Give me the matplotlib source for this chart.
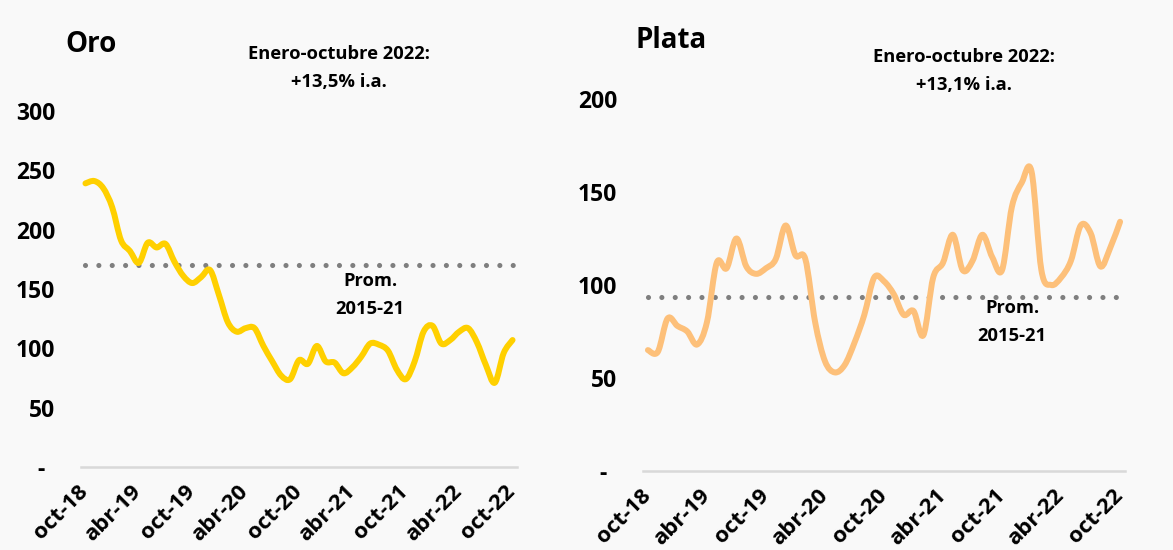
import numpy as np
import matplotlib
matplotlib.use('Agg')
import matplotlib.pyplot as plt
from matplotlib.path import Path
from matplotlib.patches import PathPatch
from matplotlib.transforms import ScaledTranslation

# monthly index, oct-18 .. oct-22 (49 months)
months = ['oct-18', 'nov-18', 'dic-18', 'ene-19', 'feb-19', 'mar-19', 'abr-19', 'may-19', 'jun-19',
          'jul-19', 'ago-19', 'sep-19', 'oct-19', 'nov-19', 'dic-19', 'ene-20', 'feb-20', 'mar-20',
          'abr-20', 'may-20', 'jun-20', 'jul-20', 'ago-20', 'sep-20', 'oct-20', 'nov-20', 'dic-20',
          'ene-21', 'feb-21', 'mar-21', 'abr-21', 'may-21', 'jun-21', 'jul-21', 'ago-21', 'sep-21',
          'oct-21', 'nov-21', 'dic-21', 'ene-22', 'feb-22', 'mar-22', 'abr-22', 'may-22', 'jun-22',
          'jul-22', 'ago-22', 'sep-22', 'oct-22']

oro = [239, 241, 235, 219, 191, 182, 172, 189, 185, 188, 173, 161, 155, 160, 166, 145, 122,
       114, 117, 117, 102, 89, 77, 74, 90, 87, 102, 89, 88, 79, 84, 93, 104, 103, 98, 82, 74,
       89, 114, 119, 104, 107, 114, 117, 105, 86, 71, 96, 107]
plata = [65, 64, 82, 78, 75, 68, 80, 112, 109, 125, 110, 106, 109, 114, 132, 116, 114, 80,
         59, 53, 57, 69, 84, 104, 102, 95, 84, 86, 73, 104, 112, 127, 108, 113, 127, 115, 108,
         142, 155, 161, 108, 100, 104, 113, 132, 128, 110, 120, 134]

prom_oro = 170
prom_plata = 93.5

titles = ['Oro', 'Plata']
notas = ['Enero-octubre 2022:\n+13,5% i.a.', 'Enero-octubre 2022:\n+13,1% i.a.']
yticks_oro = [0, 50, 100, 150, 200, 250, 300]
yticks_plata = [0, 50, 100, 150, 200]

plt.rcParams['font.family'] = ['Open Sans', 'DejaVu Sans']
plt.rcParams['font.weight'] = 'bold'

bg = '#f9f9f9'
fig = plt.figure(figsize=(11.73, 5.5), dpi=100, facecolor=bg)


def smooth_path(x, y):
    # bezier segments through the points (like excel "smoothed line")
    p = np.column_stack([x, y]).astype(float)
    verts = [p[0]]
    codes = [Path.MOVETO]
    n = len(p)
    for i in range(n - 1):
        p0 = p[i - 1] if i > 0 else p[i]
        p3 = p[i + 2] if i + 2 < n else p[i + 1]
        c1 = p[i] + (p[i + 1] - p0) / 6
        c2 = p[i + 1] - (p3 - p[i]) / 6
        verts += [c1, c2, p[i + 1]]
        codes += [Path.CURVE4] * 3
    return Path(verts, codes)


def panel(ax, serie, prom, color, yticks, ymax, titulo, nota, tx, ty, nx, ny, px, py):
    x = np.arange(len(months))
    ax.set_facecolor(bg)
    ax.plot(x, [prom] * len(x), color='#7f7f7f', lw=3.7, linestyle=(0, (0.001, 2.6)),
            dash_capstyle='round', zorder=2)
    ax.add_patch(PathPatch(smooth_path(x, serie), facecolor='none', edgecolor=color, lw=4.3,
                           capstyle='round', joinstyle='round', zorder=3))
    ax.set_xlim(-0.5, len(x) - 0.5)
    ax.set_ylim(0, ymax)
    for s in ['top', 'right', 'left']:
        ax.spines[s].set_visible(False)
    ax.spines['bottom'].set_color('#d9d9d9')
    ax.spines['bottom'].set_linewidth(1.8)
    ax.set_yticks(yticks)
    ax.set_yticklabels(['-'] + [str(v) for v in yticks[1:]], fontsize=16.5, fontweight='bold')
    ax.tick_params(axis='y', length=0, pad=18.5)
    # the zero label sits a little to the left (accounting format)
    ylabs = ax.get_yticklabels()
    ylabs[0].set_transform(ylabs[0].get_transform()
                           + ScaledTranslation(-11 / 100, 0, fig.dpi_scale_trans))
    ax.set_xticks(x[::6])
    ax.set_xticklabels(months[::6], rotation=45, ha='right', rotation_mode='anchor',
                       fontsize=16, fontweight='bold')
    ax.tick_params(axis='x', length=0, pad=10)
    shift = ScaledTranslation(-8 / 100, 0, fig.dpi_scale_trans)
    for lab in ax.get_xticklabels():
        lab.set_transform(lab.get_transform() + shift)
    fig.text(tx, ty, titulo, fontsize=20, fontweight='bold', ha='left', va='center')
    fig.text(nx, ny, nota, fontsize=13.2, fontweight='bold', ha='center', va='center',
             linespacing=1.7)
    ax.annotate('Prom.\n2015-21', xy=(px, py), xycoords='figure pixels', fontsize=13.2,
                fontweight='bold', ha='center', va='center', linespacing=1.7)


ax1 = fig.add_axes([81 / 1173, 83 / 550, 436 / 1173, 356 / 550])
panel(ax1, oro, prom_oro, '#ffd000', yticks_oro, 300, titles[0], notas[0],
      65 / 1173, 1 - 44 / 550, 339 / 1173, 1 - 68 / 550, 370, 550 - 295)

ax2 = fig.add_axes([643 / 1173, 79 / 550, 482 / 1173, 372 / 550])
panel(ax2, plata, prom_plata, '#fdc07a', yticks_plata, 200, titles[1], notas[1],
      636 / 1173, 1 - 40 / 550, 964 / 1173, 1 - 71 / 550, 1012, 550 - 322)

fig.savefig('out.png', dpi=100, facecolor=bg)
